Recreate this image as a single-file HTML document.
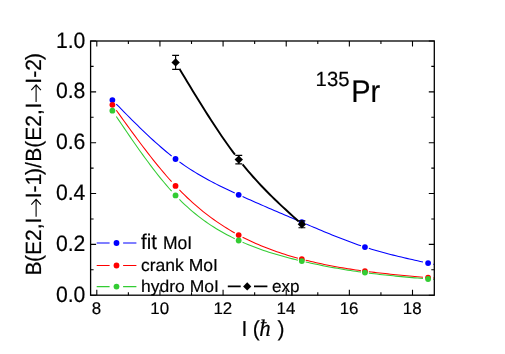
<!DOCTYPE html>
<html><head><meta charset="utf-8"><title>chart</title>
<style>html,body{margin:0;padding:0;background:#fff}body{width:505px;height:354px;overflow:hidden;font-family:"Liberation Sans",sans-serif}</style>
</head><body>
<svg width="505" height="354" viewBox="0 0 505 354" style="display:block;will-change:transform">
<rect width="505" height="354" fill="#fff"/>
<defs><clipPath id="c"><rect x="90.6" y="41.0" width="343.70000000000005" height="254.2"/></clipPath></defs>
<g clip-path="url(#c)" fill="none">
<path d="M116.28 104.04 L118.92 106.73 L121.56 109.41 L124.19 112.08 L126.83 114.75 L129.46 117.40 L132.10 120.03 L134.73 122.65 L137.37 125.24 L140.00 127.82 L142.64 130.36 L145.27 132.88 L147.91 135.37 L150.54 137.83 L153.18 140.25 L155.81 142.63 L158.45 144.97 L161.08 147.27 L163.72 149.52 L166.35 151.73 L168.99 153.88 L171.62 155.99 M179.43 161.89 L182.06 163.77 L184.70 165.59 L187.33 167.37 L189.97 169.10 L192.60 170.78 L195.24 172.41 L197.87 174.01 L200.51 175.56 L203.14 177.07 L205.78 178.55 L208.41 179.99 L211.05 181.40 L213.68 182.79 L216.32 184.14 L218.95 185.47 L221.59 186.77 L224.22 188.05 L226.86 189.32 L229.49 190.57 L232.13 191.80 L234.77 193.02 M242.57 196.57 L245.20 197.75 L247.84 198.93 L250.47 200.10 L253.11 201.27 L255.74 202.43 L258.38 203.58 L261.01 204.73 L263.65 205.88 L266.28 207.02 L268.92 208.16 L271.55 209.29 L274.19 210.43 L276.82 211.56 L279.46 212.68 L282.09 213.81 L284.73 214.93 L287.36 216.05 L290.00 217.18 L292.63 218.30 L295.27 219.42 L297.91 220.54 M305.70 223.86 L308.34 224.99 L310.98 226.11 L313.61 227.23 L316.25 228.35 L318.88 229.46 L321.52 230.57 L324.15 231.67 L326.79 232.76 L329.42 233.84 L332.06 234.92 L334.69 235.98 L337.33 237.03 L339.96 238.07 L342.60 239.10 L345.23 240.11 L347.87 241.11 L350.50 242.08 L353.14 243.04 L355.77 243.99 L358.41 244.91 L361.05 245.81 M368.85 248.34 L371.55 249.17 L374.26 249.99 L376.97 250.78 L379.67 251.54 L382.38 252.30 L385.09 253.03 L387.79 253.74 L390.50 254.44 L393.21 255.13 L395.92 255.80 L398.62 256.46 L401.33 257.10 L404.04 257.74 L406.74 258.37 L409.45 258.99 L412.16 259.60 L414.86 260.20 L417.57 260.80 L420.28 261.40 L422.99 261.99 M433.29 264.23 L433.79 264.34 L434.30 264.46" stroke="#0000ff" stroke-width="1.05"/>
<path d="M116.28 110.24 L118.92 113.91 L121.56 117.57 L124.19 121.22 L126.83 124.86 L129.46 128.48 L132.10 132.08 L134.73 135.65 L137.37 139.21 L140.00 142.73 L142.64 146.22 L145.27 149.68 L147.91 153.10 L150.54 156.48 L153.18 159.81 L155.81 163.10 L158.45 166.34 L161.08 169.52 L163.72 172.65 L166.35 175.72 L168.99 178.73 L171.62 181.67 M179.43 189.97 L182.06 192.64 L184.70 195.23 L187.33 197.75 L189.97 200.21 L192.60 202.61 L195.24 204.93 L197.87 207.20 L200.51 209.40 L203.14 211.54 L205.78 213.62 L208.41 215.65 L211.05 217.61 L213.68 219.52 L216.32 221.38 L218.95 223.18 L221.59 224.93 L224.22 226.63 L226.86 228.28 L229.49 229.89 L232.13 231.44 L234.77 232.95 M242.57 237.16 L245.20 238.50 L247.84 239.79 L250.47 241.05 L253.11 242.27 L255.74 243.46 L258.38 244.60 L261.01 245.72 L263.65 246.79 L266.28 247.84 L268.92 248.85 L271.55 249.83 L274.19 250.79 L276.82 251.71 L279.46 252.60 L282.09 253.47 L284.73 254.31 L287.36 255.13 L290.00 255.92 L292.63 256.69 L295.27 257.43 L297.91 258.16 M305.70 260.20 L308.34 260.85 L310.98 261.48 L313.61 262.10 L316.25 262.70 L318.88 263.29 L321.52 263.85 L324.15 264.41 L326.79 264.94 L329.42 265.47 L332.06 265.97 L334.69 266.46 L337.33 266.94 L339.96 267.41 L342.60 267.86 L345.23 268.30 L347.87 268.72 L350.50 269.14 L353.14 269.54 L355.77 269.93 L358.41 270.31 L361.05 270.67 M368.85 271.70 L371.55 272.04 L374.26 272.37 L376.97 272.69 L379.67 273.00 L382.38 273.30 L385.09 273.59 L387.79 273.88 L390.50 274.16 L393.21 274.43 L395.92 274.70 L398.62 274.96 L401.33 275.22 L404.04 275.47 L406.74 275.72 L409.45 275.97 L412.16 276.21 L414.86 276.45 L417.57 276.69 L420.28 276.93 L422.99 277.16 M433.29 278.05 L433.79 278.09 L434.30 278.14" stroke="#ff0000" stroke-width="1.05"/>
<path d="M116.28 116.49 L118.92 120.39 L121.56 124.28 L124.19 128.16 L126.83 132.02 L129.46 135.86 L132.10 139.68 L134.73 143.46 L137.37 147.22 L140.00 150.93 L142.64 154.61 L145.27 158.23 L147.91 161.81 L150.54 165.34 L153.18 168.81 L155.81 172.22 L158.45 175.56 L161.08 178.84 L163.72 182.04 L166.35 185.17 L168.99 188.22 L171.62 191.18 M179.43 199.42 L182.06 202.02 L184.70 204.53 L187.33 206.96 L189.97 209.31 L192.60 211.57 L195.24 213.75 L197.87 215.86 L200.51 217.90 L203.14 219.86 L205.78 221.75 L208.41 223.58 L211.05 225.34 L213.68 227.04 L216.32 228.68 L218.95 230.26 L221.59 231.79 L224.22 233.26 L226.86 234.68 L229.49 236.06 L232.13 237.39 L234.77 238.67 M242.57 242.25 L245.20 243.38 L247.84 244.48 L250.47 245.55 L253.11 246.58 L255.74 247.58 L258.38 248.55 L261.01 249.49 L263.65 250.41 L266.28 251.29 L268.92 252.15 L271.55 252.98 L274.19 253.79 L276.82 254.58 L279.46 255.35 L282.09 256.09 L284.73 256.81 L287.36 257.52 L290.00 258.21 L292.63 258.88 L295.27 259.53 L297.91 260.18 M305.70 262.00 L308.34 262.59 L310.98 263.17 L313.61 263.74 L316.25 264.30 L318.88 264.84 L321.52 265.38 L324.15 265.90 L326.79 266.41 L329.42 266.92 L332.06 267.40 L334.69 267.88 L337.33 268.35 L339.96 268.81 L342.60 269.25 L345.23 269.69 L347.87 270.11 L350.50 270.52 L353.14 270.93 L355.77 271.32 L358.41 271.70 L361.05 272.07 M368.85 273.11 L371.55 273.45 L374.26 273.78 L376.97 274.10 L379.67 274.41 L382.38 274.71 L385.09 275.00 L387.79 275.29 L390.50 275.57 L393.21 275.85 L395.92 276.11 L398.62 276.38 L401.33 276.63 L404.04 276.89 L406.74 277.13 L409.45 277.38 L412.16 277.62 L414.86 277.86 L417.57 278.10 L420.28 278.33 L422.99 278.56 M433.29 279.45 L433.79 279.49 L434.30 279.53" stroke="#33cc33" stroke-width="1.05"/>
</g>
<circle cx="112.38" cy="100.05" r="2.9" fill="#0000ff"/>
<circle cx="175.53" cy="159.00" r="2.9" fill="#0000ff"/>
<circle cx="238.67" cy="194.80" r="2.9" fill="#0000ff"/>
<circle cx="301.81" cy="222.20" r="2.9" fill="#0000ff"/>
<circle cx="364.95" cy="247.10" r="2.9" fill="#0000ff"/>
<circle cx="428.09" cy="263.10" r="2.9" fill="#0000ff"/>
<circle cx="112.38" cy="104.80" r="2.9" fill="#ff0000"/>
<circle cx="175.53" cy="185.90" r="2.9" fill="#ff0000"/>
<circle cx="238.67" cy="235.10" r="2.9" fill="#ff0000"/>
<circle cx="301.81" cy="259.20" r="2.9" fill="#ff0000"/>
<circle cx="364.95" cy="271.20" r="2.9" fill="#ff0000"/>
<circle cx="428.09" cy="277.60" r="2.9" fill="#ff0000"/>
<circle cx="112.38" cy="110.70" r="2.9" fill="#33cc33"/>
<circle cx="175.53" cy="195.40" r="2.9" fill="#33cc33"/>
<circle cx="238.67" cy="240.50" r="2.9" fill="#33cc33"/>
<circle cx="301.81" cy="261.10" r="2.9" fill="#33cc33"/>
<circle cx="364.95" cy="272.60" r="2.9" fill="#33cc33"/>
<circle cx="428.09" cy="279.00" r="2.9" fill="#33cc33"/>
<path d="M179.43 68.74 L182.07 73.14 L184.71 77.54 L187.36 81.92 L190.00 86.29 L192.65 90.64 L195.29 94.96 L197.94 99.26 L200.58 103.53 L203.23 107.77 L205.87 111.96 L208.52 116.12 L211.16 120.23 L213.81 124.30 L216.45 128.31 L219.10 132.26 L221.74 136.16 L224.39 140.00 L227.03 143.77 L229.68 147.47 L232.32 151.09 L234.97 154.64 M242.57 164.39 L245.24 167.65 L247.91 170.84 L250.59 173.95 L253.26 177.00 L255.93 179.97 L258.61 182.88 L261.28 185.73 L263.95 188.53 L266.62 191.27 L269.30 193.96 L271.97 196.61 L274.64 199.22 L277.32 201.79 L279.99 204.33 L282.66 206.83 L285.34 209.31 L288.01 211.76 L290.69 214.20 L293.36 216.62 L296.03 219.03 L298.70 221.43" stroke="#000" stroke-width="1.9" fill="none"/>
<path d="M175.62 55.40V69.40M172.18 55.40H179.07M172.18 69.40H179.07" stroke="#000" stroke-width="1.15" fill="none"/>
<path d="M175.62 58.20L179.82 62.40L175.62 66.60L171.43 62.40Z" fill="#000"/>
<path d="M238.77 155.30V163.90M235.32 155.30H242.22M235.32 163.90H242.22" stroke="#000" stroke-width="1.15" fill="none"/>
<path d="M238.77 155.40L242.97 159.60L238.77 163.80L234.57 159.60Z" fill="#000"/>
<path d="M301.90 220.90V227.70M298.45 220.90H305.35M298.45 227.70H305.35" stroke="#000" stroke-width="1.15" fill="none"/>
<path d="M301.90 220.10L306.10 224.30L301.90 228.50L297.70 224.30Z" fill="#000"/>
<rect x="90.6" y="41.0" width="343.70000000000005" height="254.2" fill="none" stroke="#000" stroke-width="1.3"/>
<path d="M96.80 295.2v-5.5M96.80 41.0v5.5M128.37 295.2v-3.0M128.37 41.0v3.0M159.94 295.2v-5.5M159.94 41.0v5.5M191.51 295.2v-3.0M191.51 41.0v3.0M223.08 295.2v-5.5M223.08 41.0v5.5M254.65 295.2v-3.0M254.65 41.0v3.0M286.22 295.2v-5.5M286.22 41.0v5.5M317.79 295.2v-3.0M317.79 41.0v3.0M349.36 295.2v-5.5M349.36 41.0v5.5M380.93 295.2v-3.0M380.93 41.0v3.0M412.50 295.2v-5.5M412.50 41.0v5.5M90.6 295.20h5.5M434.3 295.20h-5.5M90.6 269.78h3.0M434.3 269.78h-3.0M90.6 244.36h5.5M434.3 244.36h-5.5M90.6 218.94h3.0M434.3 218.94h-3.0M90.6 193.52h5.5M434.3 193.52h-5.5M90.6 168.10h3.0M434.3 168.10h-3.0M90.6 142.68h5.5M434.3 142.68h-5.5M90.6 117.26h3.0M434.3 117.26h-3.0M90.6 91.84h5.5M434.3 91.84h-5.5M90.6 66.42h3.0M434.3 66.42h-3.0M90.6 41.00h5.5M434.3 41.00h-5.5" stroke="#000" stroke-width="1.1" fill="none"/>
<g font-family="Liberation Sans, sans-serif" fill="#000" text-rendering="geometricPrecision">
<text transform="translate(85.40 301.80) scale(1 1.05)" font-size="21.2" text-anchor="end" stroke="#000" stroke-width="0.18">0.0</text>
<text transform="translate(85.40 250.96) scale(1 1.05)" font-size="21.2" text-anchor="end" stroke="#000" stroke-width="0.18">0.2</text>
<text transform="translate(85.40 200.12) scale(1 1.05)" font-size="21.2" text-anchor="end" stroke="#000" stroke-width="0.18">0.4</text>
<text transform="translate(85.40 149.28) scale(1 1.05)" font-size="21.2" text-anchor="end" stroke="#000" stroke-width="0.18">0.6</text>
<text transform="translate(85.40 98.44) scale(1 1.05)" font-size="21.2" text-anchor="end" stroke="#000" stroke-width="0.18">0.8</text>
<text transform="translate(85.40 47.60) scale(1 1.05)" font-size="21.2" text-anchor="end" stroke="#000" stroke-width="0.18">1.0</text>
<text transform="translate(96.50 314.20) scale(1 1.0)" font-size="16.9" text-anchor="middle" stroke="#000" stroke-width="0.18">8</text>
<text transform="translate(159.64 314.20) scale(1 1.0)" font-size="16.9" text-anchor="middle" stroke="#000" stroke-width="0.18">10</text>
<text transform="translate(222.78 314.20) scale(1 1.0)" font-size="16.9" text-anchor="middle" stroke="#000" stroke-width="0.18">12</text>
<text transform="translate(285.92 314.20) scale(1 1.0)" font-size="16.9" text-anchor="middle" stroke="#000" stroke-width="0.18">14</text>
<text transform="translate(349.06 314.20) scale(1 1.0)" font-size="16.9" text-anchor="middle" stroke="#000" stroke-width="0.18">16</text>
<text transform="translate(412.20 314.20) scale(1 1.0)" font-size="16.9" text-anchor="middle" stroke="#000" stroke-width="0.18">18</text>
<text transform="translate(41.00 275.50) rotate(-90) scale(1 1.05)" font-size="21" stroke="#000" stroke-width="0.18">B<tspan dx="-0.4">(E2,I</tspan></text>
<text transform="translate(41.00 198.30) rotate(-90) scale(1 1.05)" font-size="21" stroke="#000" stroke-width="0.18">I-1<tspan dx="-1.1">)/</tspan><tspan dx="0.3">B(E2,</tspan><tspan dx="0.8">I</tspan></text>
<text transform="translate(41.00 83.70) rotate(-90) scale(1 1.05)" font-size="21" stroke="#000" stroke-width="0.18">I-2<tspan dx="-0.9">)</tspan></text>
<path d="M36.1 216.7V199.4M31.3 204.65L36.1 199.4L40.9 204.65" stroke="#000" stroke-width="1.1" fill="none"/>
<path d="M36.1 101.9V84.9M31.3 90.15L36.1 84.9L40.9 90.15" stroke="#000" stroke-width="1.1" fill="none"/>
<text transform="translate(241.60 335.60) scale(1 1.03)" font-size="21" stroke="#000" stroke-width="0.18">I<tspan dx="-0.6"> (</tspan><tspan font-family="Liberation Serif, serif" font-style="italic" font-size="23" dx="-0.5">ħ</tspan><tspan dx="0.9"> )</tspan></text>
<text transform="translate(315.60 85.80) scale(1 1.01)" font-size="20.3" stroke="#000" stroke-width="0.18">135</text>
<text transform="translate(351.20 101.90) scale(1 1.08)" font-size="29" stroke="#000" stroke-width="0.18">Pr</text>
<path d="M96.7 243.0H109.6M123.1 243.0H136.4" stroke="#0000ff" stroke-width="1.1"/>
<circle cx="116.5" cy="243.0" r="2.9" fill="#0000ff"/>
<path d="M96.7 265.5H109.6M123.1 265.5H136.4" stroke="#ff0000" stroke-width="1.1"/>
<circle cx="116.5" cy="265.5" r="2.9" fill="#ff0000"/>
<path d="M96.7 286.6H109.6M123.1 286.6H136.4" stroke="#33cc33" stroke-width="1.1"/>
<circle cx="116.5" cy="286.6" r="2.9" fill="#33cc33"/>
<text transform="translate(141.00 249.10) scale(1 1.05)" font-size="17.5" stroke="#000" stroke-width="0.18"><tspan font-size="20.4">fit</tspan><tspan dx="1.3"> MoI</tspan></text>
<text transform="translate(141.00 270.70) scale(1 0.99)" font-size="17.5" stroke="#000" stroke-width="0.18">crank MoI</text>
<text transform="translate(141.00 292.00) scale(1 0.97)" font-size="17.5" stroke="#000" stroke-width="0.18">hydro MoI</text>
<path d="M227.8 286.4H240.7M254 286.4H267.4" stroke="#000" stroke-width="1.7"/>
<path d="M247.2 282.3L251.3 286.4L247.2 290.5L243.1 286.4Z" fill="#000"/>
<text transform="translate(271.90 291.70) scale(1 1.0)" font-size="17.1" stroke="#000" stroke-width="0.18">exp</text>
</g>
</svg>
</body></html>
